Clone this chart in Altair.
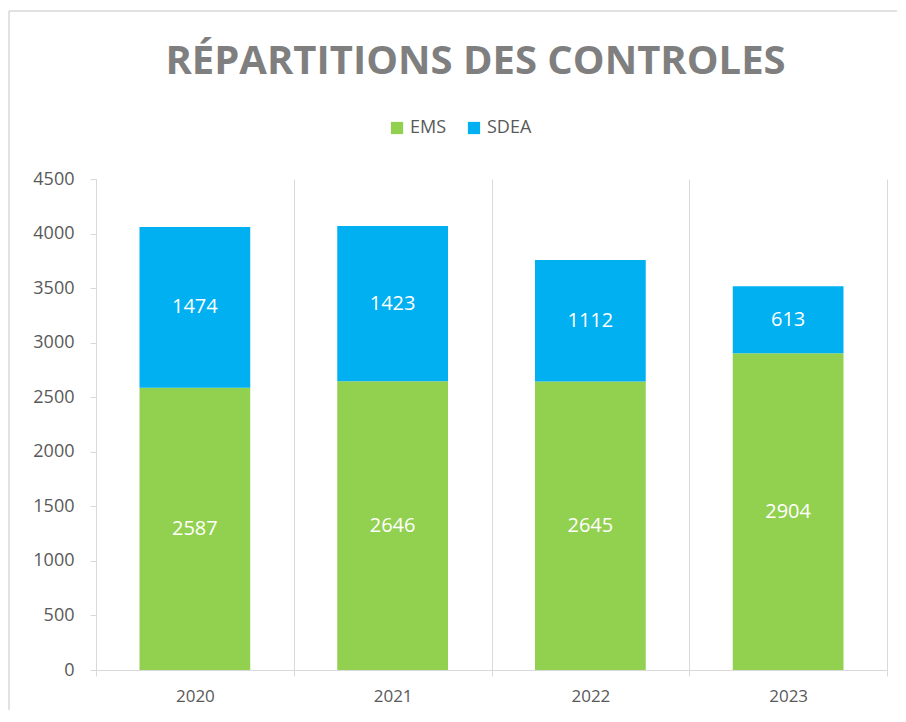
import altair as alt
import pandas as pd

years = ["2020", "2021", "2022", "2023"]
ems = [2587, 2646, 2645, 2904]
sdea = [1474, 1423, 1112, 613]
series = ["EMS", "SDEA"]
colors = ["#92d050", "#00b0f0"]
y_ticks = [0, 500, 1000, 1500, 2000, 2500, 3000, 3500, 4000, 4500]

rows = []
for i, y in enumerate(years):
    rows.append({"year": y, "series": "EMS", "value": ems[i], "order": 0})
    rows.append({"year": y, "series": "SDEA", "value": sdea[i], "order": 1})
df = pd.DataFrame(rows)

FONT = "Open Sans"
W, H = 791, 491
GRID = "#d9d9d9"

base = alt.Chart(df).transform_stack(
    stack="value", groupby=["year"], as_=["y0", "y1"],
    sort=[alt.SortField("order", order="ascending")]
).transform_calculate(mid="(datum.y0 + datum.y1) / 2")

x_enc = alt.X("year:N", sort=years, title=None,
              scale=alt.Scale(paddingInner=0, paddingOuter=0),
              axis=alt.Axis(tickBand="extent", grid=True, gridColor=GRID,
                            domainColor=GRID, tickColor=GRID, tickSize=6,
                            labelAngle=0, labelFontSize=17, labelColor="#595959",
                            labelFont=FONT, labelPadding=12))

bars = base.mark_bar(width=alt.RelativeBandSize(0.56)).encode(
    x=x_enc,
    y=alt.Y("y0:Q", title=None,
            scale=alt.Scale(domain=[0, 4500], nice=False),
            axis=alt.Axis(values=y_ticks, format="d", grid=False, domainColor=GRID,
                          tickColor=GRID, tickSize=6, labelFontSize=18,
                          labelColor="#595959", labelFont=FONT, labelPadding=16)),
    y2="y1:Q",
    color=alt.Color("series:N", scale=alt.Scale(domain=series, range=colors),
                    legend=alt.Legend(title=None, orient="none", direction="horizontal",
                                      legendX=292, legendY=-60, symbolType="square",
                                      symbolSize=150, symbolStrokeWidth=0,
                                      labelFontSize=18, labelColor="#595959",
                                      labelFont=FONT, columnPadding=18)),
    order=alt.Order("order:Q"),
)

labels = base.mark_text(color="white", fontSize=20, font=FONT).encode(
    x=alt.X("year:N", sort=years),
    y=alt.Y("mid:Q"),
    text=alt.Text("value:Q"),
)

frame_df = pd.DataFrame({"k": [0]})
frame_left = alt.Chart(frame_df).mark_rule(stroke=GRID, strokeWidth=1.5).encode(
    x=alt.value(-87), y=alt.value(-168), y2=alt.value(H + 120)
)
frame_top = alt.Chart(frame_df).mark_rule(stroke=GRID, strokeWidth=1.5).encode(
    x=alt.value(-87), x2=alt.value(W + 60), y=alt.value(-168)
)

chart = alt.layer(frame_left, frame_top, bars, labels).properties(
    width=W, height=H,
    background="white",
    title=alt.TitleParams("RÉPARTITIONS DES CONTROLES", font=FONT, fontSize=40,
                          fontWeight="bold", color="#7f7f7f", anchor="middle",
                          dx=-16, offset=-72),
    autosize=alt.AutoSizeParams(type="none"),
    padding={"left": 88, "top": 171, "right": 10, "bottom": 40},
).configure_view(strokeWidth=0, stroke="transparent")

chart.save("out.html", embed_options={"renderer": "svg", "actions": False})
